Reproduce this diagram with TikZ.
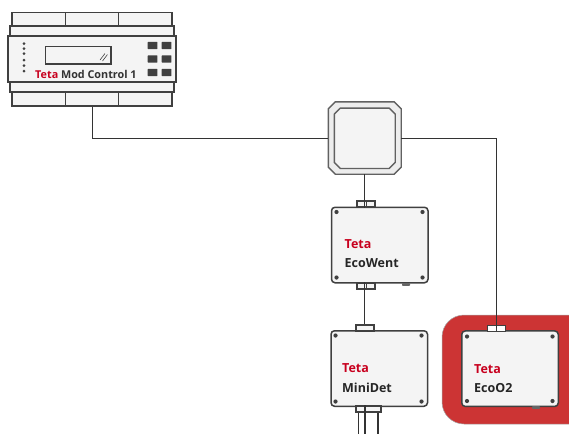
\documentclass[tikz,border=0pt]{standalone}
\usepackage{fontspec}
\setmainfont{Open Sans}
\usetikzlibrary{calc}
\definecolor{ink}{HTML}{404040}
\definecolor{wire}{HTML}{333333}
\definecolor{paper}{HTML}{F4F4F4}
\definecolor{tetared}{HTML}{C8001E}
\definecolor{halo}{HTML}{CC3434}
\tikzset{
  x=1pt,y=-1pt,
  part/.style={draw=ink,line width=1.5pt,fill=paper,inner sep=0pt,rectangle},
  device/.style={part,rounded corners=3.5pt,minimum width=96.5pt,minimum height=75.5pt},
  port/.style={part,line width=1.2pt,minimum width=18pt,minimum height=6pt},
  foot/.style={fill=ink!80,inner sep=0pt,rectangle,rounded corners=.6pt,minimum width=8pt,minimum height=2.6pt},
  screw/.style={circle,fill=ink,inner sep=0pt,minimum size=4.2pt},
  led/.style={circle,fill=ink,inner sep=0pt,minimum size=3pt},
  key/.style={rectangle,fill=ink,inner sep=0pt,rounded corners=.5pt,minimum width=9.8pt,minimum height=7.2pt},
  wirepath/.style={draw=wire,line width=1pt},
  brand/.style={text=tetared,font=\bfseries\fontsize{12.5}{14}\selectfont,anchor=base west,inner sep=0pt},
  model/.style={text=black!85,font=\bfseries\fontsize{12.5}{14}\selectfont,anchor=base west,inner sep=0pt},
  hubbox/.style={rectangle,inner sep=0pt},
  hubline/.style={draw=black!62,line width=1.4pt,line join=round},
}
\begin{document}
\begin{tikzpicture}
\useasboundingbox (0,0) rectangle (569,434);
% PLC
\node[part,minimum width=53.5pt,minimum height=13.5pt] (t1) at (38.7,19.2) {};
\node[part,minimum width=53pt,minimum height=13.5pt] (t2) at (92,19.2) {};
\node[part,minimum width=53.5pt,minimum height=13.5pt] (t3) at (145.2,19.2) {};
\node[part,minimum width=53.5pt,minimum height=14pt] (b1) at (38.7,99) {};
\node[part,minimum width=53pt,minimum height=14pt] (b2) at (92,99) {};
\node[part,minimum width=53.5pt,minimum height=14pt] (b3) at (145.2,99) {};
\node[part,minimum width=164pt,minimum height=10pt] (railt) at (92,31) {};
\node[part,minimum width=164pt,minimum height=10pt] (railb) at (92,87) {};
\node[part,minimum width=168pt,minimum height=46pt] (plc) at (92,59) {};
\node[part,minimum width=65.5pt,minimum height=17.5pt] (screen) at (78.2,55.2) {};
\draw[ink,line width=.6pt] (100,60) -- (105,53.5) (102.5,61) -- (107.5,54.5);
\foreach \n/\y in {a/43.5,b/48.5,c/53.5,d/60,e/65.5,f/71} \node[led] (led\n) at (24,\y) {};
\foreach \n/\y in {a/45.5,b/59,c/72.5} {
  \node[key] (kl\n) at (152.5,\y) {};
  \node[key] (kr\n) at (166.5,\y) {};
}
\node[anchor=base west,inner sep=0pt,font=\bfseries\fontsize{10.8}{12}\selectfont,text=black!80] (plclabel) at (35,78) {\textcolor{tetared}{Teta} Mod Control 1};
% Hub
\node[hubbox,minimum width=72.5pt,minimum height=72pt] (hub) at (364.75,138) {};
\node[hubbox,minimum width=60.5pt,minimum height=60pt] (hubin) at (364.75,138.3) {};
\fill[black!7] [hubline]
  ($(hub.north west)+(7,0)$) -- ($(hub.north east)+(-7,0)$) -- ($(hub.north east)+(0,7)$) --
  ($(hub.south east)+(0,-7)$) -- ($(hub.south east)+(-7,0)$) -- ($(hub.south west)+(7,0)$) --
  ($(hub.south west)+(0,-7)$) -- ($(hub.north west)+(0,7)$) -- cycle;
\filldraw[fill=paper] [hubline]
  ($(hubin.north west)+(6,0)$) -- ($(hubin.north east)+(-6,0)$) -- ($(hubin.north east)+(0,6)$) --
  ($(hubin.south east)+(0,-6)$) -- ($(hubin.south east)+(-6,0)$) -- ($(hubin.south west)+(6,0)$) --
  ($(hubin.south west)+(0,-6)$) -- ($(hubin.north west)+(0,6)$) -- cycle;
% Halo
\fill[halo,draw=black!35,line width=.5pt,rounded corners=22pt] (442,315) rectangle (600,424);
% Devices
\node[device] (ew) at (379.75,245) {};
\node[port] (ewt) at (366,204) {};
\node[port] (ewb) at (366,286) {};
\node[foot] at (406,284.5) {};
\node[device] (md) at (379.25,368.5) {};
\node[port] (mdt) at (365,328) {};
\node[port,minimum width=25pt] (mdb) at (368.5,409) {};
\node[device] (o2) at (510,368.7) {};
\node[port,fill=white] (o2t) at (496.2,328.2) {};
\node[foot] at (536,407.5) {};
\draw[ink,line width=.7pt] (ewt.north) -- (ewt.south) (ewb.north) -- (ewb.south) (o2t.north) -- (o2t.south);
\foreach \n/\a/\b/\cc/\d in {ew/336.5/422.5/212/277.5,md/335.5/421.5/335.5/401.5,o2/467/552.5/336.5/401}{
  \node[screw] (\n s1) at (\a,\cc) {};
  \node[screw] (\n s2) at (\b,\cc) {};
  \node[screw] (\n s3) at (\a,\d) {};
  \node[screw] (\n s4) at (\b,\d) {};
}
\node[brand] (ewbrand) at (344.5,248) {Teta};
\node[model] (ewmodel) at (344.5,267) {EcoWent};
\node[brand] (mdbrand) at (342,372.5) {Teta};
\node[model] (mdmodel) at (342,392) {MiniDet};
\node[brand] (o2brand) at (474,373) {Teta};
\node[model] (o2model) at (474,392) {EcoO2};
% Wires
\draw[wirepath] (b2.south) |- (hub.west);
\draw[wirepath] (hub.east) -| (o2t.north) -- ++(0,3);
\draw[wirepath] (hub.south) -- (hub.south |- ewt.south);
\draw[wirepath] (hub.south |- ewb.north) -- (hub.south |- mdt.north);
\coordinate (w1) at (358.5,434);
\coordinate (w2) at (365,434);
\coordinate (w3) at (378,434);
\draw[wirepath,line width=1.3pt] (mdb.south -| w1) -- (w1);
\draw[wirepath,line width=1.3pt] (mdb.north -| w2) -- (w2);
\draw[wirepath,line width=1.3pt] (mdb.south -| w3) -- (w3);
\end{tikzpicture}
\end{document}
